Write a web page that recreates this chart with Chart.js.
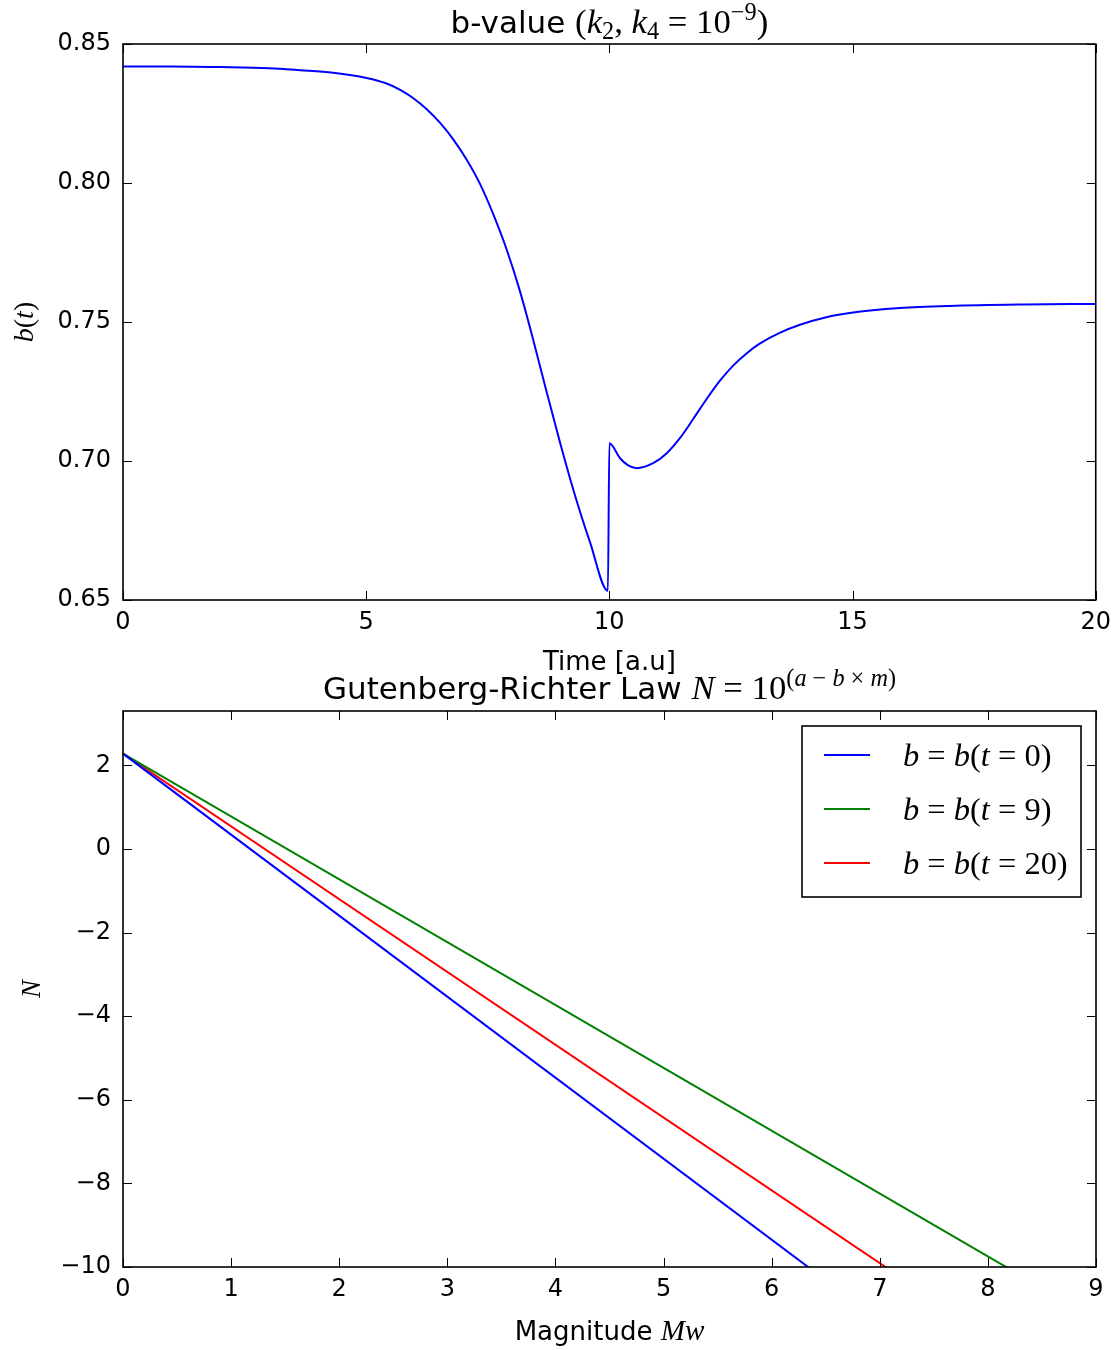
<!DOCTYPE html>
<html><head><meta charset="utf-8">
<script src="https://cdn.jsdelivr.net/npm/chart.js@4.4.0/dist/chart.umd.min.js"></script>
<style>
html,body{margin:0;padding:0;background:#fff;width:1119px;height:1350px;overflow:hidden}
canvas{position:absolute;left:0}
#c1{top:0}
#c2{top:640px}
</style></head><body>
<canvas id="c1" width="1119" height="675"></canvas>
<canvas id="c2" width="1119" height="710"></canvas>
<script>
// ---- data ----
const timeValues = [0, 1, 2, 3, 3.64, 4.32, 5.01, 5.42, 5.69, 5.97, 6.24, 6.52, 6.79, 7.07, 7.34, 7.61, 7.89, 8.16, 8.43, 8.70, 8.98, 9.26, 9.6, 9.97,
                    10.0, 10.22, 10.38, 10.56, 10.9, 11.18, 11.45, 11.72, 12.0, 12.27, 12.55, 12.82, 13.09, 13.5, 13.92, 14.46, 14.94, 15.97, 17, 18.5, 20];
const bValues = [0.8419, 0.8419, 0.8417, 0.8413, 0.8406, 0.8397, 0.8378, 0.8358, 0.8336, 0.8305, 0.8266, 0.8216, 0.8157, 0.8083, 0.7997, 0.7889, 0.7760, 0.7612, 0.7439, 0.7255, 0.7070, 0.6896, 0.6709, 0.6533,
                 0.7064, 0.7010, 0.6985, 0.6974, 0.6992, 0.7028, 0.7082, 0.7150, 0.7223, 0.7288, 0.7344, 0.7387, 0.7422, 0.7461, 0.7490, 0.7517, 0.7532, 0.7550, 0.7558, 0.7563, 0.7565];
const timeTicks = [0, 5, 10, 15, 20];
const bTicks = [0.65, 0.70, 0.75, 0.80, 0.85];

const magnitudes = [0, 9];
const nBlue  = [2.28, -15.16];   // b = b(t=0)
const nGreen = [2.28, -11.25];   // b = b(t=9)
const nRed   = [2.28, -13.39];   // b = b(t=20)
const magTicks = [0, 1, 2, 3, 4, 5, 6, 7, 8, 9];
const nTicks = [-10, -8, -6, -4, -2, 0, 2];
const legendTimes = ['0', '9', '20'];

const SANS = '"DejaVu Sans", "Bitstream Vera Sans", sans-serif';
const SERIF = '"Liberation Serif", "DejaVu Serif", serif';
const MS = 1.12; // math glyphs look larger than text glyphs

function fontFor(st, size) {
  if (st === 'sans') return size + 'px ' + SANS;
  if (st === 'it') return 'italic ' + (size * MS) + 'px ' + SERIF;
  return (size * MS) + 'px ' + SERIF;
}
function richWidth(ctx, segs, size) {
  let w = 0;
  for (const s of segs) { ctx.font = fontFor(s.st, size * (s.s || 1)); w += ctx.measureText(s.t).width; }
  return w;
}
function drawRich(ctx, segs, x, y, size, align) {
  const w = richWidth(ctx, segs, size);
  let cx = align === 'left' ? x : x - w / 2;
  ctx.textBaseline = 'alphabetic';
  ctx.textAlign = 'left';
  for (const s of segs) {
    const fs = size * (s.s || 1);
    ctx.font = fontFor(s.st, fs);
    ctx.fillText(s.t, cx, y + (s.dy || 0) * size);
    cx += ctx.measureText(s.t).width;
  }
}
const SUP = -0.42, SUB = 0.2, SC = 0.7;

function frameAndTicks(xArr, yArr) {
  return {
    id: 'frameTicks',
    afterDatasetsDraw(chart) {
      const ctx = chart.ctx, a = chart.chartArea;
      const xs = chart.scales.x, ys = chart.scales.y;
      ctx.save();
      ctx.strokeStyle = '#000';
      ctx.lineWidth = 1;
      const L = 9;
      ctx.beginPath();
      for (const v of xArr) {
        const p = Math.round(xs.getPixelForValue(v)) + 0.5;
        ctx.moveTo(p, a.bottom); ctx.lineTo(p, a.bottom - L);
        ctx.moveTo(p, a.top); ctx.lineTo(p, a.top + L);
      }
      for (const v of yArr) {
        const p = Math.round(ys.getPixelForValue(v)) + 0.5;
        ctx.moveTo(a.left, p); ctx.lineTo(a.left + L, p);
        ctx.moveTo(a.right, p); ctx.lineTo(a.right - L, p);
      }
      ctx.stroke();
      ctx.lineWidth = 1.6;
      ctx.strokeRect(a.left, a.top, a.right - a.left, a.bottom - a.top);
      ctx.restore();
    }
  };
}

function textPlugin(drawFn) {
  return { id: 'texts', afterDraw(chart) { const ctx = chart.ctx; ctx.save(); ctx.fillStyle = '#000'; drawFn(chart, ctx); ctx.restore(); } };
}

const tickFont = { family: SANS, size: 24 };
const minus = v => String(v).replace('-', '\u2212');

// ---- top chart ----
new Chart(document.getElementById('c1'), {
  type: 'line',
  data: {
    datasets: [{
      label: 'b(t)',
      data: timeValues.map((t, i) => ({ x: t, y: bValues[i] })),
      borderColor: '#0000ff', borderWidth: 2, pointRadius: 0, fill: false,
      cubicInterpolationMode: 'monotone'
    }]
  },
  options: {
    responsive: false, animation: false, devicePixelRatio: 1,
    layout: { padding: { top: 44, right: 23, left: 0, bottom: 0 } },
    plugins: { legend: { display: false }, title: { display: false }, tooltip: { enabled: false } },
    scales: {
      x: {
        type: 'linear', min: 0, max: 20,
        grid: { display: false, drawTicks: false }, border: { display: false },
        afterBuildTicks: s => { s.ticks = timeTicks.map(v => ({ value: v })); },
        ticks: { font: tickFont, color: '#000', padding: 8, maxRotation: 0, autoSkip: false, callback: v => minus(v) },
        afterFit: s => { s.height = 75; }
      },
      y: {
        type: 'linear', min: 0.65, max: 0.85,
        grid: { display: false, drawTicks: false }, border: { display: false },
        afterBuildTicks: s => { s.ticks = bTicks.map(v => ({ value: v })); },
        ticks: { font: tickFont, color: '#000', padding: 12, autoSkip: false, callback: v => v.toFixed(2) },
        afterFit: s => { s.width = 123; }
      }
    }
  },
  plugins: [frameAndTicks(timeTicks, bTicks), textPlugin((chart, ctx) => {
    const a = chart.chartArea, cx = (a.left + a.right) / 2;
    drawRich(ctx, [
      { t: 'b-value ', st: 'sans' }, { t: '(', st: 'serif' }, { t: 'k', st: 'it' },
      { t: '2', st: 'serif', s: SC, dy: SUB }, { t: ', ', st: 'serif' }, { t: 'k', st: 'it' },
      { t: '4', st: 'serif', s: SC, dy: SUB }, { t: ' = ', st: 'serif' }, { t: '10', st: 'serif' },
      { t: '\u22129', st: 'serif', s: SC, dy: SUP }, { t: ')', st: 'serif' }
    ], cx, 33, 31, 'center');
    drawRich(ctx, [{ t: 'Time [a.u]', st: 'sans' }], cx, 670, 26, 'center');
    ctx.save();
    ctx.translate(33, (a.top + a.bottom) / 2);
    ctx.rotate(-Math.PI / 2);
    drawRich(ctx, [{ t: 'b', st: 'it' }, { t: '(', st: 'serif' }, { t: 't', st: 'it' }, { t: ')', st: 'serif' }], 0, 0, 25, 'center');
    ctx.restore();
  })]
});

// ---- bottom chart ----
const seriesColors = ['#0000ff', '#008000', '#ff0000'];
const seriesData = [nBlue, nGreen, nRed];
new Chart(document.getElementById('c2'), {
  type: 'line',
  data: {
    datasets: seriesData.map((arr, k) => ({
      label: 'b = b(t = ' + legendTimes[k] + ')',
      data: magnitudes.map((m, i) => ({ x: m, y: arr[i] })),
      borderColor: seriesColors[k], borderWidth: 2, pointRadius: 0, fill: false, tension: 0
    }))
  },
  options: {
    responsive: false, animation: false, devicePixelRatio: 1,
    layout: { padding: { top: 71, right: 23, left: 0, bottom: 0 } },
    plugins: { legend: { display: false }, title: { display: false }, tooltip: { enabled: false } },
    scales: {
      x: {
        type: 'linear', min: 0, max: 9,
        grid: { display: false, drawTicks: false }, border: { display: false },
        afterBuildTicks: s => { s.ticks = magTicks.map(v => ({ value: v })); },
        ticks: { font: tickFont, color: '#000', padding: 8, maxRotation: 0, autoSkip: false, callback: v => minus(v) },
        afterFit: s => { s.height = 83; }
      },
      y: {
        type: 'linear', min: -10, max: 3.3,
        grid: { display: false, drawTicks: false }, border: { display: false },
        afterBuildTicks: s => { s.ticks = nTicks.map(v => ({ value: v })); },
        ticks: { font: tickFont, color: '#000', padding: 12, autoSkip: false, callback: v => minus(v) },
        afterFit: s => { s.width = 123; }
      }
    }
  },
  plugins: [frameAndTicks(magTicks, nTicks), textPlugin((chart, ctx) => {
    const a = chart.chartArea, cx = (a.left + a.right) / 2;
    drawRich(ctx, [
      { t: 'Gutenberg-Richter Law ', st: 'sans' }, { t: 'N', st: 'it' }, { t: ' = ', st: 'serif' }, { t: '10', st: 'serif' },
      { t: '(', st: 'serif', s: SC, dy: SUP }, { t: 'a', st: 'it', s: SC, dy: SUP }, { t: ' \u2212 ', st: 'serif', s: SC, dy: SUP },
      { t: 'b', st: 'it', s: SC, dy: SUP }, { t: ' \u00d7 ', st: 'serif', s: SC, dy: SUP }, { t: 'm', st: 'it', s: SC, dy: SUP },
      { t: ')', st: 'serif', s: SC, dy: SUP }
    ], cx, a.top - 12, 31, 'center');
    drawRich(ctx, [{ t: 'Magnitude ', st: 'sans' }, { t: 'Mw', st: 'it' }], cx, a.bottom + 73, 26, 'center');
    ctx.save();
    ctx.translate(40, (a.top + a.bottom) / 2);
    ctx.rotate(-Math.PI / 2);
    drawRich(ctx, [{ t: 'N', st: 'it' }], 0, 0, 24, 'center');
    ctx.restore();
    // legend box (upper right inside the plot)
    const bx = a.right - 15 - 279, by = a.top + 15, bw = 279, bh = 171;
    ctx.fillStyle = '#fff';
    ctx.fillRect(bx, by, bw, bh);
    ctx.strokeStyle = '#000'; ctx.lineWidth = 1.6;
    ctx.strokeRect(bx, by, bw, bh);
    chart.data.datasets.forEach((ds, k) => {
      const ly = by + 29 + k * 54;
      ctx.strokeStyle = ds.borderColor; ctx.lineWidth = 2;
      ctx.beginPath(); ctx.moveTo(bx + 22, ly); ctx.lineTo(bx + 68, ly); ctx.stroke();
      ctx.fillStyle = '#000';
      drawRich(ctx, [
        { t: 'b', st: 'it' }, { t: ' = ', st: 'serif' }, { t: 'b', st: 'it' }, { t: '(', st: 'serif' },
        { t: 't', st: 'it' }, { t: ' = ', st: 'serif' }, { t: legendTimes[k], st: 'serif' }, { t: ')', st: 'serif' }
      ], bx + 101, ly + 11, 29, 'left');
    });
  })]
});
</script>
</body></html>
